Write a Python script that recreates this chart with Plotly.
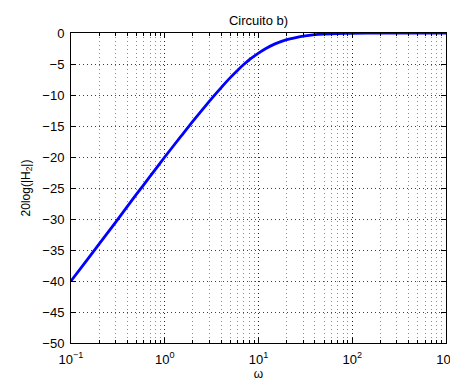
import plotly.graph_objects as go

omega = [0.1, 0.15, 0.2, 0.3, 0.5, 0.7, 1, 1.5, 2, 3, 4, 5, 6, 7, 8, 10, 12, 15, 20, 25, 30, 40, 50, 70, 100, 200, 500, 1000]
gain_db = [-40, -36.5, -34, -30.5, -26, -23.1, -20, -16.6, -14.2, -11.0, -8.8, -7.2, -6.0, -5.05, -4.3, -3.25, -2.5, -1.75, -1.07, -0.73, -0.5, -0.26, -0.17, -0.09, -0.04, -0.01, 0.0, 0.0]

x_tickvals = [0.1, 1, 10, 100, 1000]
x_ticktext = ["10<sup>−1</sup>", "10<sup>0</sup>", "10<sup>1</sup>", "10<sup>2</sup>", "10<sup>3</sup>"]
y_tickvals = [0, -5, -10, -15, -20, -25, -30, -35, -40, -45, -50]

fig = go.Figure()
fig.add_trace(go.Scatter(x=omega, y=gain_db, mode="lines",
                         line=dict(color="#0000ff", width=2.8, shape="spline", smoothing=0.5),
                         showlegend=False))

font = dict(family="Liberation Sans, Arial, Helvetica, sans-serif", size=12, color="black")
fig.update_layout(
    width=458, height=375,
    margin=dict(l=63, r=20, t=25, b=40, autoexpand=False),
    paper_bgcolor="white", plot_bgcolor="white",
    font=font,
    title=dict(text="Circuito b)", x=0.5, xref="paper", xanchor="center",
               y=1, yref="paper", yanchor="bottom", pad=dict(b=8),
               font=dict(size=13, color="black")),
)
fig.update_xaxes(type="log", range=[-1, 3], tickvals=x_tickvals, ticktext=x_ticktext,
                 automargin=False, ticklabeloverflow="allow",
                 showline=True, linecolor="black", linewidth=1, mirror="ticks",
                 ticks="inside", ticklen=5, tickcolor="black",
                 showgrid=True, gridcolor="rgba(0,0,0,0.75)", griddash="1px,3px", gridwidth=1,
                 minor=dict(showgrid=True, gridcolor="rgba(0,0,0,0.45)", griddash="1px,3px",
                            ticks="inside", ticklen=3, tickcolor="black", dtick="D1"),
                 title=dict(text="ω", standoff=0, font=dict(size=12)),
                 ticklabelstandoff=4,
                 zeroline=False, tickfont=dict(size=13))
fig.update_yaxes(range=[-50, 0], tickvals=y_tickvals, automargin=False,
                 showline=True, linecolor="black", linewidth=1, mirror="ticks",
                 ticks="inside", ticklen=5, tickcolor="black",
                 showgrid=True, gridcolor="rgba(0,0,0,0.75)", griddash="1px,3px", gridwidth=1,
                 title=dict(text="20log(|H<sub>2</sub>|)", standoff=9, font=dict(size=12)),
                 ticklabelstandoff=3,
                 zeroline=False, tickfont=dict(size=13))

fig.write_html("out.html")
